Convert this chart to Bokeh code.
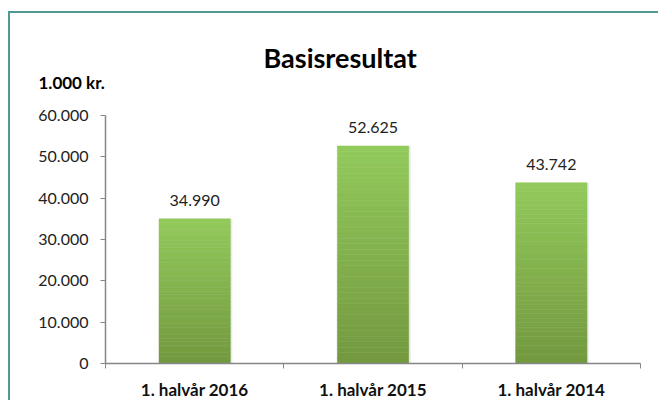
from bokeh.plotting import figure
from bokeh.models import FixedTicker, Title, ColumnDataSource
from bokeh.embed import file_html
from bokeh.resources import INLINE
from bokeh.core.properties import value

categories = ["1. halvår 2016", "1. halvår 2015", "1. halvår 2014"]
values = [34990, 52625, 43742]
y_ticks = [0, 10000, 20000, 30000, 40000, 50000, 60000]
y_tick_labels = ["0", "10.000", "20.000", "30.000", "40.000", "50.000", "60.000"]
title_text = "Basisresultat"
unit_text = "1.000 kr."

FONT = "Lato"
BORDER = "#4E9A95"

W, H = 650, 389
p = figure(width=W, height=H, output_backend="svg", toolbar_location=None,
           x_range=(0, len(categories)), y_range=(0, 60000),
           min_border_left=95, min_border_top=102, min_border_right=20, min_border_bottom=39)
p.styles = {"margin-left": "8px", "margin-top": "11px",
            "border-left": f"2px solid {BORDER}", "border-top": f"2px solid {BORDER}"}
p.outline_line_color = None
p.xgrid.grid_line_color = None
p.ygrid.grid_line_color = None
p.background_fill_color = "white"
p.border_fill_color = "white"

# gradient bars built from slices of each value
N = 40
top_c = (146, 201, 91)
bot_c = (115, 153, 63)
xs, bottoms, tops, colors = [], [], [], []
for i, v in enumerate(values):
    for k in range(N):
        t = k / (N - 1)
        c = tuple(int(round(bot_c[j] + (top_c[j] - bot_c[j]) * t)) for j in range(3))
        xs.append(i + 0.5)
        bottoms.append(v * k / N)
        tops.append(v * (k + 1) / N)
        colors.append("#%02x%02x%02x" % c)
# soft shadow
p.vbar(x=[i + 0.5 + 0.012 for i in range(len(values))], top=values, bottom=[-350] * len(values),
       width=0.4, fill_color="#000000", fill_alpha=0.08, line_color=None)
p.vbar(x=xs, bottom=bottoms, top=tops, width=0.4, fill_color=colors, line_color=colors, line_width=0.5)

src = ColumnDataSource(dict(x=[i + 0.5 for i in range(len(values))], y=values,
                            t=[f"{v:,}".replace(",", ".") for v in values]))
p.text(x="x", y="y", text="t", source=src, text_align="center", text_baseline="bottom",
       y_offset=-13, text_font=value(FONT), text_font_size="16px", text_color="#222222")

# y axis
ya = p.yaxis[0]
ya.ticker = FixedTicker(ticks=y_ticks)
ya.major_label_overrides = {t: l for t, l in zip(y_ticks, y_tick_labels)}
ya.major_label_text_font = FONT
ya.major_label_text_font_size = "16px"
ya.major_label_text_color = "#222222"
ya.axis_line_color = "#868686"
ya.axis_line_width = 1.5
ya.major_tick_line_color = "#868686"
ya.major_tick_out = 5
ya.major_tick_in = 0
ya.minor_tick_line_color = None
ya.major_label_standoff = 12

# x axis
xa = p.xaxis[0]
xa.ticker = FixedTicker(ticks=[i + 0.5 for i in range(len(categories))],
                        minor_ticks=list(range(len(categories) + 1)))
xa.major_label_overrides = {i + 0.5: c for i, c in enumerate(categories)}
xa.major_label_text_font = FONT
xa.major_label_text_font_style = "bold"
xa.major_label_text_font_size = "17px"
xa.major_label_text_color = "#111111"
xa.axis_line_color = "#868686"
xa.axis_line_width = 1.5
xa.major_tick_line_color = None
xa.minor_tick_line_color = "#868686"
xa.minor_tick_out = 5
xa.minor_tick_in = 0
xa.major_label_standoff = 9

p.title.text = title_text
p.title.align = "left"
p.title.offset = 158
p.title.text_font = FONT
p.title.text_font_style = "bold"
p.title.text_font_size = "27px"
p.title.text_color = "#000000"
p.title.standoff = -8

# empty spacer between the plot area and the unit label
p.add_layout(Title(text=" ", text_font_size="1px", standoff=20), "above")
p.add_layout(Title(text=unit_text, align="left", offset=-67, text_font=FONT, text_font_style="bold",
                   text_font_size="17px", text_color="#000000", standoff=0), "above")

open("out.html", "w").write(file_html(p, INLINE))
